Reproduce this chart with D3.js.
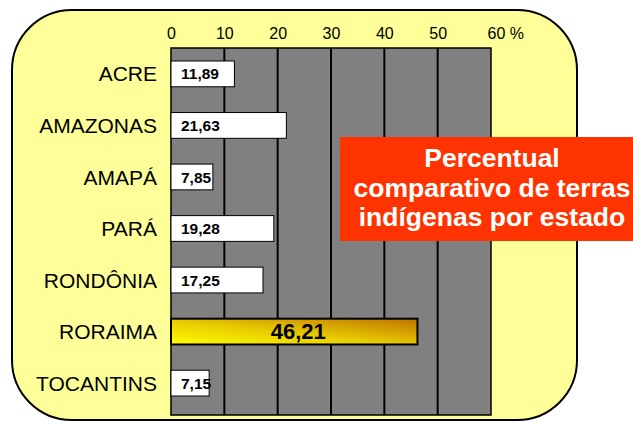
<!DOCTYPE html>
<html>
<head>
<meta charset="utf-8">
<script src="https://cdn.jsdelivr.net/npm/d3@7"></script>
<style>
  html, body { margin: 0; padding: 0; background: #fff; }
  svg { display: block; font-family: "Liberation Sans", Arial, sans-serif; }
</style>
</head>
<body>
<svg id="chart" width="633" height="423"></svg>
<script>
// Share of each state's territory that is indigenous land (%)
const states = ["ACRE", "AMAZONAS", "AMAPÁ", "PARÁ", "RONDÔNIA", "RORAIMA", "TOCANTINS"];
const percentages = [11.89, 21.63, 7.85, 19.28, 17.25, 46.21, 7.15];
const tickValues = [0, 10, 20, 30, 40, 50, 60];
const tickLabels = ["0", "10", "20", "30", "40", "50", "60 %"];
const titleLines = ["Percentual", "comparativo de terras", "indígenas por estado"];
const highlighted = "RORAIMA";

const svg = d3.select("#chart");
const fmt = v => d3.format(".2f")(v).replace(".", ",");

// Gradient for the highlighted bar
const defs = svg.append("defs");
const grad = defs.append("linearGradient")
  .attr("id", "goldGrad")
  .attr("x1", 0).attr("y1", 1).attr("x2", 1).attr("y2", 0);
grad.append("stop").attr("offset", "0%").attr("stop-color", "#ffff00");
grad.append("stop").attr("offset", "45%").attr("stop-color", "#e8cc00");
grad.append("stop").attr("offset", "100%").attr("stop-color", "#c07400");

// Rounded yellow panel
svg.append("rect")
  .attr("x", 12).attr("y", 10)
  .attr("width", 565).attr("height", 410)
  .attr("rx", 60).attr("ry", 60)
  .attr("fill", "#ffff99")
  .attr("stroke", "#000").attr("stroke-width", 2);

// Plot area
const plot = { left: 171, right: 491, top: 48, bottom: 415 };

const x = d3.scaleLinear().domain([0, 60]).range([plot.left, plot.right]);
const y = d3.scaleBand().domain(states).range([61, 396]).paddingInner(0.5).paddingOuter(0);

svg.append("rect")
  .attr("x", plot.left).attr("y", plot.top)
  .attr("width", plot.right - plot.left).attr("height", plot.bottom - plot.top)
  .attr("fill", "#808080")
  .attr("stroke", "#000").attr("stroke-width", 1.5);

// Vertical gridlines
svg.append("g")
  .selectAll("line")
  .data(tickValues.slice(1, -1))
  .join("line")
  .attr("x1", d => x(d)).attr("x2", d => x(d))
  .attr("y1", plot.top).attr("y2", plot.bottom)
  .attr("stroke", "#000").attr("stroke-width", 2);

// Top axis labels
const axis = d3.axisTop(x)
  .tickValues(tickValues)
  .tickSize(0)
  .tickPadding(0)
  .tickFormat((d, i) => tickLabels[i]);
const axisG = svg.append("g")
  .attr("transform", `translate(0, 39)`)
  .call(axis)
  .attr("font-size", 16)
  .attr("font-family", "'Liberation Sans', Arial, sans-serif");
axisG.select(".domain").remove();
axisG.selectAll("text")
  .attr("y", 0).attr("dy", 0)
  .attr("fill", "#000");
axisG.selectAll(".tick").filter(d => d === 60).select("text")
  .attr("text-anchor", "start")
  .attr("dx", -4);

// Category labels
svg.append("g")
  .selectAll("text")
  .data(states)
  .join("text")
  .attr("x", 157)
  .attr("y", d => y(d) + y.bandwidth() / 2)
  .attr("dy", "0.36em")
  .attr("text-anchor", "end")
  .attr("font-size", 21)
  .attr("fill", "#000")
  .text(d => d);

// Bars
const rows = states.map((s, i) => ({ state: s, value: percentages[i] }));

svg.append("g")
  .selectAll("rect")
  .data(rows)
  .join("rect")
  .attr("x", x(0))
  .attr("y", d => y(d.state))
  .attr("width", d => x(d.value) - x(0))
  .attr("height", y.bandwidth())
  .attr("fill", d => d.state === highlighted ? "url(#goldGrad)" : "#fff")
  .attr("stroke", "#000")
  .attr("stroke-width", d => d.state === highlighted ? 2 : 1);

// Value labels
svg.append("g")
  .selectAll("text")
  .data(rows)
  .join("text")
  .attr("x", d => d.state === highlighted ? (x(0) + x(d.value)) / 2 + 4 : x(0) + 10)
  .attr("y", d => y(d.state) + y.bandwidth() / 2)
  .attr("dy", "0.36em")
  .attr("text-anchor", d => d.state === highlighted ? "middle" : "start")
  .attr("font-weight", "bold")
  .attr("font-size", d => d.state === highlighted ? 22 : 15.5)
  .attr("fill", "#000")
  .text(d => fmt(d.value));

// Title box
svg.append("rect")
  .attr("x", 340).attr("y", 137)
  .attr("width", 300).attr("height", 104)
  .attr("fill", "#ff3300");

svg.append("g")
  .selectAll("text")
  .data(titleLines)
  .join("text")
  .attr("x", 492)
  .attr("y", (d, i) => 167 + i * 29.5)
  .attr("text-anchor", "middle")
  .attr("font-weight", "bold")
  .attr("font-size", 26.5)
  .attr("fill", "#fff")
  .text(d => d);
</script>
</body>
</html>
